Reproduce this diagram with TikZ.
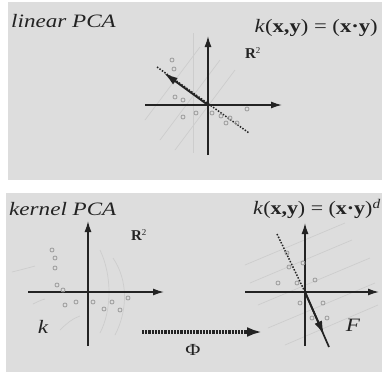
\documentclass[tikz,border=0pt]{standalone}
\usepackage{fontspec}
\setmainfont{Liberation Serif}
\usetikzlibrary{arrows.meta}
\definecolor{panel}{RGB}{221,221,221}
\definecolor{ink}{RGB}{35,35,35}
\definecolor{ptc}{RGB}{155,155,155}
\definecolor{faint}{RGB}{205,205,205}
\begin{document}
\begin{tikzpicture}[x=1bp,y=-1bp,
  axis/.style={ink, line width=1.4bp, -{Latex[length=11bp,width=7bp]}},
  pcarrow/.style={ink, line width=1.9bp, -{Latex[length=14bp,width=8bp]}},
  pcline/.style={ink, line width=1.7bp},
  pcdot/.style={ink, line width=1.5bp, dash pattern=on 1.5bp off 1.5bp},
  phiarrow/.style={ink, line width=3.2bp, dash pattern=on 2.2bp off 1bp, -{Latex[length=15bp,width=10bp]}},
  pnt/.style={circle, draw=ptc, line width=0.8bp, inner sep=0pt, minimum size=4bp},
  lbl/.style={inner sep=0pt, text=ink, font=\fontsize{19}{19}\selectfont, xscale=1.22},
  small/.style={inner sep=0pt, text=ink, font=\fontsize{15}{15}\selectfont},
  faintline/.style={faint, line width=0.7bp}]
\useasboundingbox (0,0) rectangle (383,378);
\fill[white] (0,0) rectangle (383,378);
\fill[panel] (8,2) rectangle (382,180);
\fill[panel] (6,193) rectangle (382,372);

% ---------- top panel ----------
\draw[faintline] (160,140) -- (220,60);
\draw[faintline] (175,150) -- (235,70);
\draw[faintline] (193,33) -- (193,153);
\draw[faintline] (145,120) -- (200,47);

\coordinate (o1) at (208,105);
\coordinate (h1a) at (145,105); \coordinate (h1b) at (282,105);
\coordinate (v1a) at (208,155); \coordinate (v1b) at (208,36);
\draw[axis] (h1a) -- (h1b);
\draw[axis] (v1a) -- (v1b);

\coordinate (d1a) at (157,67); \coordinate (d1b) at (249,133);
\coordinate (p1) at (164,73);
\draw[pcdot] (d1a) -- (d1b);
\draw[pcarrow] (o1) -- (p1);

\foreach \i/\p in {a/{(172,60)},b/{(174,69)},c/{(175,97)},d/{(183,100)},e/{(183,117)},f/{(196,113)},
                   g/{(212,113)},h/{(221,116)},i/{(230,118)},j/{(237,123)},k/{(247,109)},l/{(226,123)}}
  \node[pnt] (ta\i) at \p {};

\node[lbl, anchor=west, font=\fontsize{19}{19}\selectfont\itshape] (t1) at (11,21) {linear PCA};
\node[lbl, anchor=east, xscale=0.98] (f1) at (378,28) {\textit{k}(\textbf{x,y}) = (\textbf{x·y})};
\node[small] (r1) at (253,53) {\textbf{R}\textsuperscript{\fontsize{9}{9}\selectfont 2}};

% ---------- bottom left ----------
\draw[faintline] (100,250) .. controls (112,275) and (112,310) .. (100,333);
\draw[faintline] (113,258) .. controls (128,280) and (128,310) .. (115,335);
\draw[faintline] (12,272) .. controls (20,270) and (28,268) .. (35,266);
\draw[faintline] (33,304) .. controls (37,302) and (41,300) .. (45,299);
\draw[faintline] (60,330) .. controls (68,322) and (74,318) .. (80,316);

\coordinate (o2) at (88,292);
\coordinate (h2a) at (28,292); \coordinate (h2b) at (164,292);
\coordinate (v2a) at (88,346); \coordinate (v2b) at (88,221);
\draw[axis] (h2a) -- (h2b);
\draw[axis] (v2a) -- (v2b);

\foreach \i/\p in {a/{(52,250)},b/{(55,258)},c/{(55,268)},d/{(57,285)},e/{(63,290)},f/{(65,305)},
                   g/{(76,302)},h/{(93,302)},i/{(104,309)},j/{(112,302)},k/{(120,310)},l/{(128,298)}}
  \node[pnt] (bl\i) at \p {};

\node[lbl, anchor=west, font=\fontsize{19}{19}\selectfont\itshape] (t2) at (9,209) {kernel PCA};
\node[small] (r2) at (139,235) {\textbf{R}\textsuperscript{\fontsize{9}{9}\selectfont 2}};
\node[lbl, font=\fontsize{19}{19}\selectfont\itshape] (kk) at (43,327) {k};

% ---------- Phi arrow ----------
\coordinate (phia) at (142,332); \coordinate (phib) at (262,332);
\draw[phiarrow] (phia) -- (phib);
\node[lbl, font=\fontsize{17}{17}\selectfont] (phi) at (193,350) {Φ};

% ---------- bottom right ----------
\draw[faintline] (245,265) -- (345,223);
\draw[faintline] (250,283) -- (352,240);
\draw[faintline] (258,305) -- (370,258);
\draw[faintline] (268,328) -- (375,283);
\draw[faintline] (285,345) -- (378,305);

\coordinate (o3) at (305,292);
\coordinate (h3a) at (245,292); \coordinate (h3b) at (379,292);
\coordinate (v3a) at (305,346); \coordinate (v3b) at (305,223);
\draw[axis] (h3a) -- (h3b);
\draw[axis] (v3a) -- (v3b);

\coordinate (d3a) at (277,234);
\coordinate (p3) at (324,335); \coordinate (e3) at (329,347);
\draw[pcdot] (d3a) -- (o3);
\draw[pcline] (o3) -- (e3);
\draw[pcarrow] (o3) -- (p3);

\foreach \i/\p in {a/{(287,253)},b/{(289,267)},c/{(278,283)},d/{(297,283)},e/{(303,263)},f/{(315,280)},
                   g/{(300,303)},h/{(323,303)},i/{(327,318)},j/{(312,318)}}
  \node[pnt] (br\i) at \p {};

\node[lbl, anchor=east, xscale=0.95] (f2) at (381,209) {\textit{k}(\textbf{x,y}) = (\textbf{x·y})\textsuperscript{\itshape d}};
\node[lbl, font=\fontsize{19}{19}\selectfont\itshape] (ff) at (353,325) {F};
\end{tikzpicture}
\end{document}
